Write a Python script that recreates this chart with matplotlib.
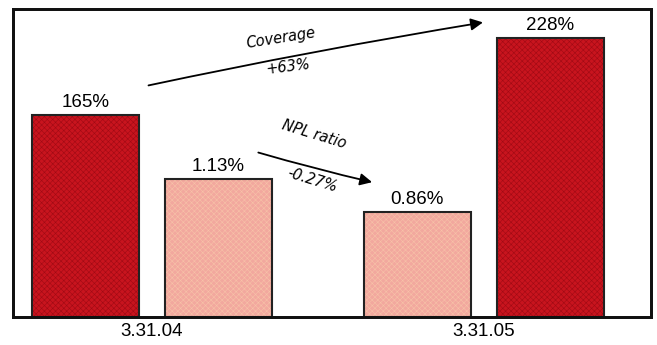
import matplotlib
matplotlib.use("Agg")
import matplotlib.pyplot as plt
from matplotlib.colors import to_rgba

# data
dates = ["3.31.04", "3.31.05"]
coverage = [165, 228]          # %
npl_ratio = [1.13, 0.86]       # %
coverage_labels = ["165%", "228%"]
npl_labels = ["1.13%", "0.86%"]

dark_red = "#c8141e"
pink = "#f2a89e"

plt.rcParams["font.family"] = ["Liberation Sans", "DejaVu Sans"]
plt.rcParams["hatch.linewidth"] = 0.4

fig = plt.figure(figsize=(6.57, 3.45), dpi=100)
ax1 = fig.add_axes([13 / 657, 28 / 345, 638 / 657, 308 / 345])
ax2 = ax1.twinx()

w = 0.322
# coverage on the outside, npl ratio inside
cov_x = [0 - 0.2, 1 + 0.2]
npl_x = [0 + 0.2, 1 - 0.2]

b1 = ax1.bar(cov_x, coverage, width=w, color=dark_red, edgecolor="#222222",
             linewidth=1.5, hatch="xxxxxx")
b2 = ax2.bar(npl_x, npl_ratio, width=w, color=pink, edgecolor="#222222",
             linewidth=1.5, hatch="xxxxxx")
for p in b1:
    p._hatch_color = to_rgba("#a00a14")
for p in b2:
    p._hatch_color = to_rgba("#f7c2a8")

for x, v, s in zip(cov_x, coverage, coverage_labels):
    ax1.annotate(s, (x, v), xytext=(0, 3), textcoords="offset points",
                 ha="center", va="bottom", fontsize=13.5)
for x, v, s in zip(npl_x, npl_ratio, npl_labels):
    ax2.annotate(s, (x, v), xytext=(0, 3), textcoords="offset points",
                 ha="center", va="bottom", fontsize=13.5)

ax1.set_xlim(-0.418, 1.504)
ax1.set_ylim(0, 251.6)
ax2.set_ylim(0, 2.52)
ax1.set_xticks([0, 1])
ax1.set_xticklabels(dates, fontsize=13.5)
ax1.tick_params(axis="x", length=0, pad=4)
ax1.set_yticks([])
ax2.set_yticks([])
for ax in (ax1, ax2):
    for s in ax.spines.values():
        s.set_linewidth(2)
        s.set_color("#111111")

# hand drawn style arrows
ax1.annotate("", xy=(1.006, 241), xytext=(-0.018, 188.7),
             arrowprops=dict(arrowstyle="-|>", color="black", lw=1.3,
                             mutation_scale=18,
                             connectionstyle="arc3,rad=-0.012"))
ax1.text(0.39, 228, "Coverage", rotation=9, ha="center", va="center",
         fontsize=10.5, family="DejaVu Sans", style="italic")
ax1.text(0.41, 204, "+63%", rotation=7, ha="center", va="center",
         fontsize=10.5, family="DejaVu Sans", style="italic")

ax2.annotate("", xy=(0.672, 1.098), xytext=(0.313, 1.352),
             arrowprops=dict(arrowstyle="-|>", color="black", lw=1.3,
                             mutation_scale=18,
                             connectionstyle="arc3,rad=0.015"))
ax2.text(0.49, 1.49, "NPL ratio", rotation=-17, ha="center", va="center",
         fontsize=10.5, family="DejaVu Sans", style="italic")
ax2.text(0.485, 1.12, "-0.27%", rotation=-17, ha="center", va="center",
         fontsize=10.5, family="DejaVu Sans", style="italic")

fig.savefig("out.png", dpi=100)
